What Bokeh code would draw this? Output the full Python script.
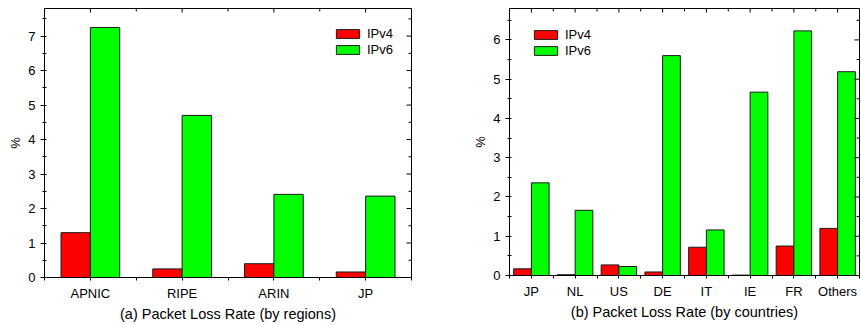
import math
import numpy as np
from bokeh.plotting import figure
from bokeh.models import (ColumnDataSource, Range1d, FixedTicker, SingleIntervalTicker,
                          LinearAxis, Legend, LegendItem)
from bokeh.layouts import row
from bokeh.transform import dodge
from bokeh.embed import file_html
from bokeh.resources import INLINE

# ---- data ----
regions = ["APNIC", "RIPE", "ARIN", "JP"]
region_ipv4 = [1.30, 0.25, 0.40, 0.16]
region_ipv6 = [7.25, 4.70, 2.41, 2.36]

countries = ["JP", "NL", "US", "DE", "IT", "IE", "FR", "Others"]
country_ipv4 = [0.17, 0.02, 0.27, 0.09, 0.72, 0.01, 0.75, 1.20]
country_ipv6 = [2.36, 1.66, 0.23, 5.60, 1.16, 4.67, 6.23, 5.19]

titles = ["(a) Packet Loss Rate (by regions)", "(b) Packet Loss Rate (by countries)"]
y_label = "%"
series = ["IPv4", "IPv6"]

FONT = "Liberation Sans"
RED = "#FF0000"
GREEN = "#00FF00"
EDGE = "#1a1a1a"


def make_panel(cats, v4, v6, title, ymax, bar_w, width, height, mb_left, mb_right,
               mb_top, legend_loc):
    n = len(cats)
    centers = [i + 0.5 for i in range(n)]
    bounds = list(range(n + 1))
    src = ColumnDataSource(dict(x=centers, v4=v4, v6=v6))
    p = figure(width=width, height=height, output_backend="svg", toolbar_location=None,
               x_range=Range1d(0, n), y_range=Range1d(0, ymax),
               min_border_left=mb_left, min_border_right=mb_right,
               min_border_top=mb_top, min_border_bottom=0,
               x_axis_location=None, y_axis_location=None)
    p.xgrid.visible = False
    p.ygrid.visible = False
    p.outline_line_color = "black"
    p.outline_line_width = 1
    p.background_fill_color = "white"
    p.border_fill_color = "white"

    r4 = p.vbar(x=dodge("x", -bar_w / 2), top="v4", bottom=0, width=bar_w, source=src,
                fill_color=RED, line_color=EDGE, line_width=1)
    r6 = p.vbar(x=dodge("x", bar_w / 2), top="v6", bottom=0, width=bar_w, source=src,
                fill_color=GREEN, line_color=EDGE, line_width=1)

    # mirror ticks on the top and right frame edges (pointing inward)
    major_y = list(np.arange(0, math.floor(ymax) + 1, 1.0))
    minor_y = list(np.arange(0.5, ymax, 1.0))
    p.ray(x=centers, y=[ymax] * n, length=4, angle=-math.pi / 2,
          length_units="screen", line_color="black", line_width=1)
    p.ray(x=bounds, y=[ymax] * (n + 1), length=3, angle=-math.pi / 2,
          length_units="screen", line_color="black", line_width=1)
    p.ray(x=[n] * len(major_y), y=major_y, length=5, angle=math.pi,
          length_units="screen", line_color="black", line_width=1)
    p.ray(x=[n] * len(minor_y), y=minor_y, length=3, angle=math.pi,
          length_units="screen", line_color="black", line_width=1)

    xt = FixedTicker(ticks=centers, minor_ticks=bounds)
    yt = SingleIntervalTicker(interval=1, num_minor_ticks=2)

    # bottom axis
    xb = LinearAxis(ticker=xt, axis_label=title)
    xb.major_label_overrides = {c: lab for c, lab in zip(centers, cats)}
    xb.major_tick_out = 3
    xb.major_tick_in = 0
    xb.minor_tick_out = 3
    xb.minor_tick_in = 0
    xb.major_label_standoff = 5
    xb.axis_label_standoff = 2
    xb.major_label_text_font = FONT
    xb.major_label_text_font_size = "13px"
    xb.major_label_text_color = "black"
    xb.axis_label_text_font = FONT
    xb.axis_label_text_font_size = "14.5px"
    xb.axis_label_text_font_style = "normal"
    xb.axis_label_text_color = "black"
    xb.axis_line_color = "black"
    p.add_layout(xb, "below")

    # left axis
    yl = LinearAxis(ticker=yt, axis_label=y_label)
    yl.major_tick_out = 4
    yl.major_tick_in = 0
    yl.minor_tick_out = 2
    yl.minor_tick_in = 2
    yl.major_label_standoff = 5
    yl.axis_label_standoff = 2
    yl.major_label_text_font = FONT
    yl.major_label_text_font_size = "13px"
    yl.major_label_text_color = "black"
    yl.axis_label_text_font = FONT
    yl.axis_label_text_font_size = "13px"
    yl.axis_label_text_font_style = "normal"
    yl.axis_label_text_color = "black"
    yl.axis_line_color = "black"
    p.add_layout(yl, "left")

    legend = Legend(items=[LegendItem(label=series[0], renderers=[r4]),
                           LegendItem(label=series[1], renderers=[r6])],
                    location=legend_loc, orientation="vertical")
    legend.glyph_width = 29
    legend.glyph_height = 11
    legend.label_height = 11
    legend.spacing = 1
    legend.padding = 0
    legend.margin = 0
    legend.label_standoff = 5
    legend.label_text_font = FONT
    legend.label_text_font_size = "13px"
    legend.label_text_color = "black"
    legend.border_line_color = None
    legend.background_fill_alpha = 0
    p.add_layout(legend, "center")
    return p


left = make_panel(regions, region_ipv4, region_ipv6, titles[0], 7.8, 0.32,
                  470, 324, 44, 59, 6, (289, 220))
right = make_panel(countries, country_ipv4, country_ipv6, titles[1], 6.8, 0.405,
                   391, 322, 36, 2, 8, (22, 217))

layout = row(left, right, spacing=0)
open("out.html", "w").write(file_html(layout, INLINE))
